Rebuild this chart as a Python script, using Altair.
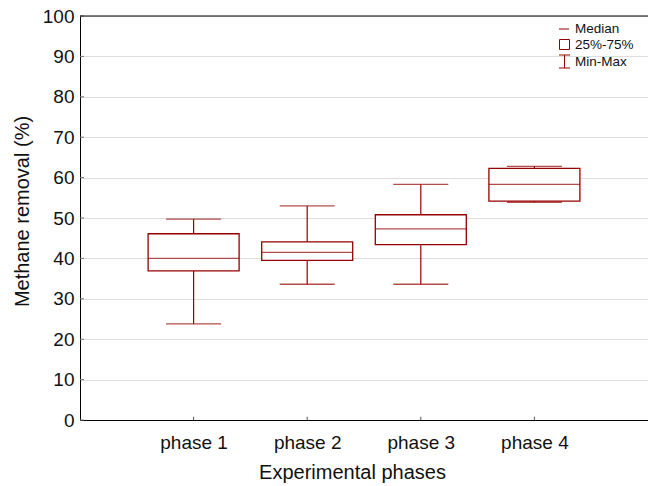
import altair as alt
import pandas as pd

phases = ["phase 1", "phase 2", "phase 3", "phase 4"]
mins = [23.8, 33.6, 33.6, 53.9]
q1 = [36.9, 39.5, 43.4, 54.2]
medians = [40.0, 41.5, 47.3, 58.3]
q3 = [46.1, 44.1, 50.8, 62.3]
maxs = [49.7, 53.0, 58.3, 62.8]

y_ticks = list(range(0, 101, 10))
legend_labels = ["Median", "25%-75%", "Min-Max"]

df = pd.DataFrame({"phase": phases, "min": mins, "q1": q1, "median": medians,
                   "q3": q3, "max": maxs})

RED = "#960000"
FONT = "Liberation Sans"
TXT = "#111111"

x = alt.X("phase:N", sort=phases,
          scale=alt.Scale(type="point", padding=1),
          axis=alt.Axis(title="Experimental phases", labelAngle=0, labelFontSize=19,
                        titleFontSize=20, titleFontWeight="normal", ticks=False,
                        labelPadding=13, domainColor="black", labelColor=TXT,
                        titleColor=TXT,
                        titleX=272, titleY=52, titleBaseline="middle",
                        titleAlign="center", grid=False))
y_axis = alt.Axis(title="Methane removal (%)", values=y_ticks,
                  labelFontSize=19, titleFontSize=20, titleFontWeight="normal",
                  ticks=False, labelPadding=6, domainColor="black",
                  labelColor=TXT, titleColor=TXT, gridColor="#dddddd", titleX=-58,
                  titleY=195, titleAlign="center", titleBaseline="middle")
yscale = alt.Scale(domain=[0, 100], nice=False)

base = alt.Chart(df)

whisk = base.mark_rule(color=RED, strokeWidth=1.2).encode(
    x=x, y=alt.Y("min:Q", scale=yscale, axis=y_axis), y2="max:Q")
box = base.mark_bar(size=91, fill="white", stroke=RED, strokeWidth=1.3).encode(
    x=x, y=alt.Y("q1:Q", scale=yscale), y2="q3:Q")
med = base.mark_tick(color=RED, size=91, thickness=1.3, orient="horizontal").encode(
    x=x, y=alt.Y("median:Q", scale=yscale))
capmax = base.mark_tick(color=RED, size=55, thickness=1.3, orient="horizontal").encode(
    x=x, y=alt.Y("max:Q", scale=yscale))
capmin = base.mark_tick(color=RED, size=55, thickness=1.3, orient="horizontal").encode(
    x=x, y=alt.Y("min:Q", scale=yscale))

# inward ticks
xticks = base.mark_rule(color="#555555", strokeWidth=1).encode(
    x=x, y=alt.datum(0, scale=yscale), y2=alt.datum(0.8))
yt_df = pd.DataFrame({"v": y_ticks})
yticks = alt.Chart(yt_df).mark_rule(color="#777777", strokeWidth=1).encode(
    x=alt.value(0), x2=alt.value(4), y=alt.Y("v:Q", scale=yscale))

top = alt.Chart(pd.DataFrame({"v": [100]})).mark_rule(color="black", strokeWidth=1).encode(
    y=alt.Y("v:Q", scale=yscale))

# legend (decoration)
leg_df = pd.DataFrame({"label": legend_labels, "ty": [13, 29, 45.5]})
leg_text = alt.Chart(leg_df).mark_text(align="left", baseline="middle", fontSize=13.5,
                                       font=FONT, color=TXT).encode(
    x=alt.value(495), y=alt.Y("ty:Q", scale=None), text="label:N")
leg_med = alt.Chart(leg_df.iloc[[0]]).mark_rule(color=RED, strokeWidth=1).encode(
    x=alt.value(479), x2=alt.value(489), y=alt.value(13))
leg_box = alt.Chart(leg_df.iloc[[1]]).mark_rect(fill="white", stroke=RED, strokeWidth=1).encode(
    x=alt.value(479.5), x2=alt.value(489.5), y=alt.value(23.5), y2=alt.value(33.5))
leg_v = alt.Chart(leg_df.iloc[[2]]).mark_rule(color=RED, strokeWidth=1).encode(
    x=alt.value(484.5), y=alt.value(39), y2=alt.value(52))
leg_t = alt.Chart(leg_df.iloc[[2]]).mark_rule(color=RED, strokeWidth=1).encode(
    x=alt.value(479), x2=alt.value(490), y=alt.value(39))
leg_b = alt.Chart(leg_df.iloc[[2]]).mark_rule(color=RED, strokeWidth=1).encode(
    x=alt.value(479), x2=alt.value(490), y=alt.value(52))

chart = alt.layer(whisk, box, med, capmax, capmin, xticks, yticks, top,
                  leg_med, leg_box, leg_v, leg_t, leg_b, leg_text).properties(
    width=568, height=404,
    autosize=alt.AutoSizeParams(type="none"),
    padding={"left": 80, "top": 16, "right": 0, "bottom": 66},
    background="white",
).configure_view(stroke=None).configure(font=FONT)

chart.save("out.html", embed_options={"renderer": "svg", "actions": False})
